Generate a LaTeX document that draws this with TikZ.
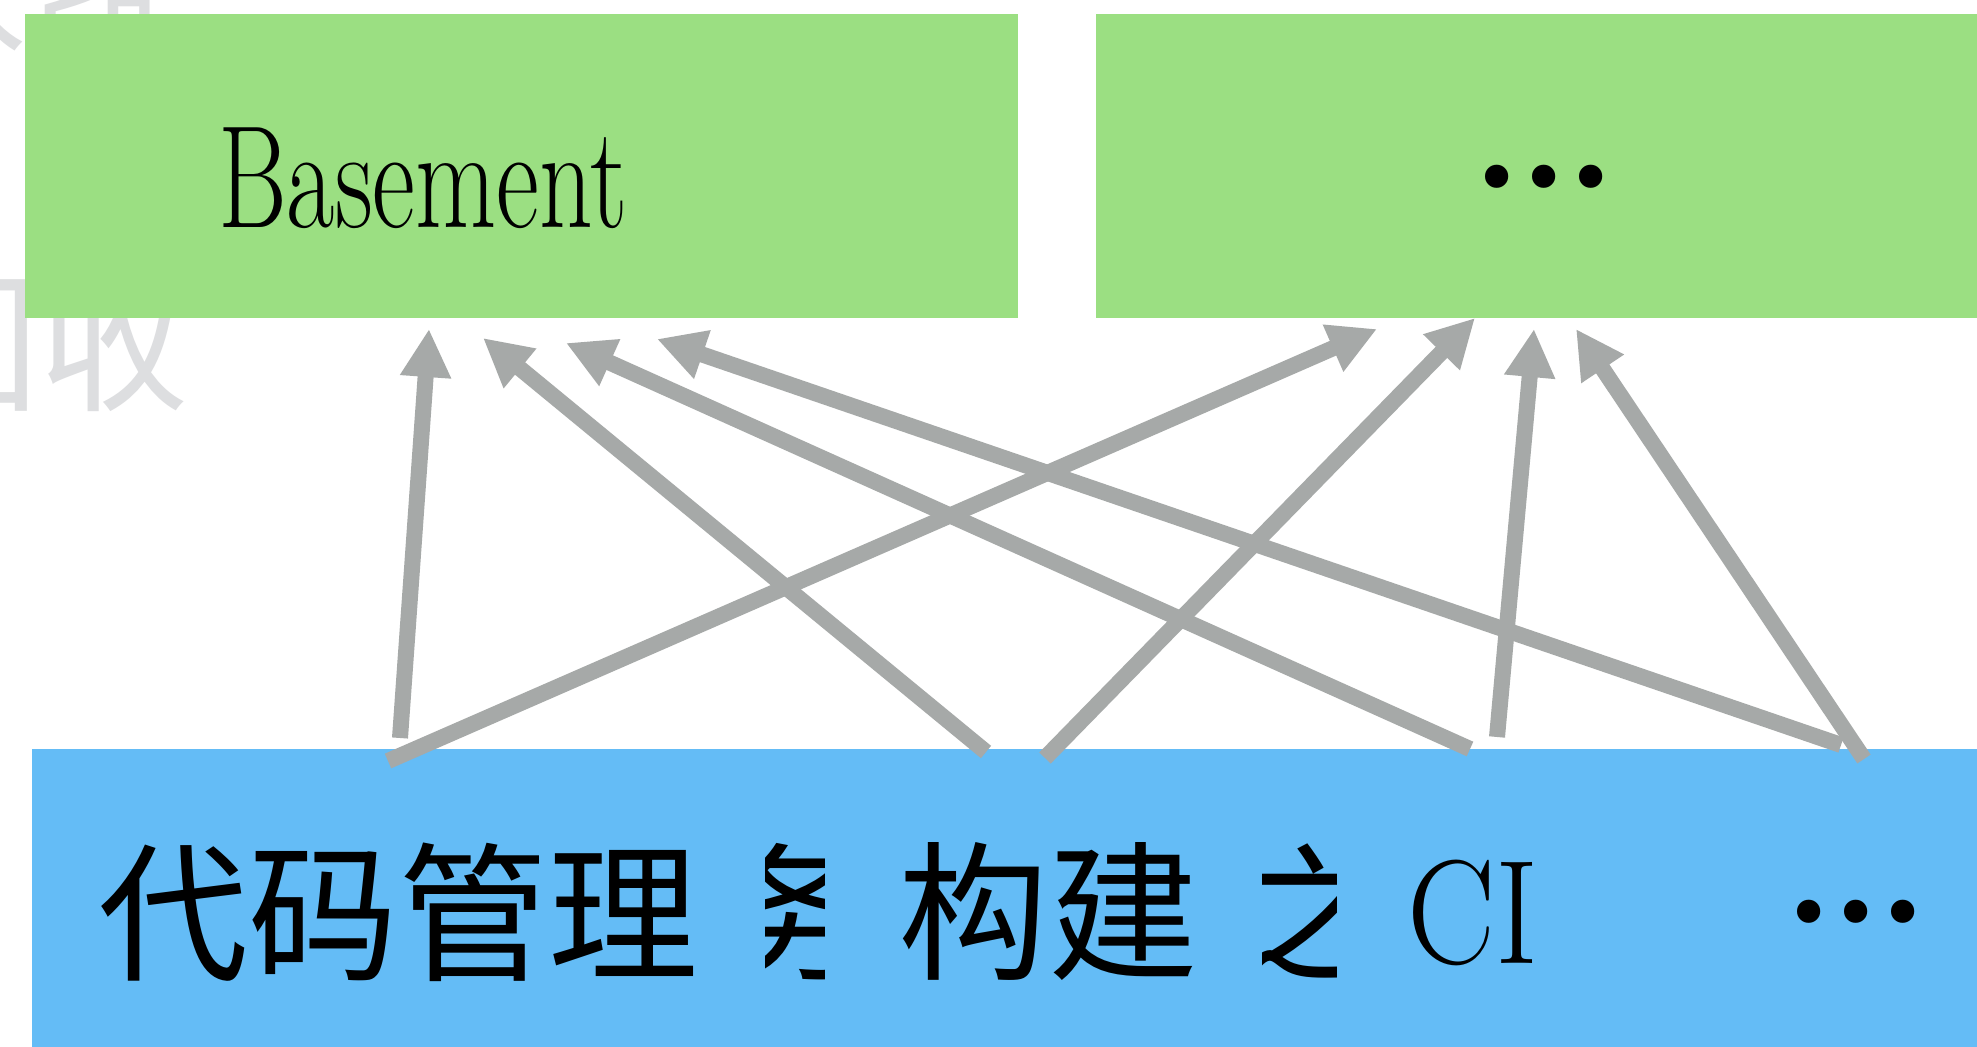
\documentclass[tikz,border=0pt]{standalone}
\usepackage{fontspec}
\usepackage{tikz}
\usetikzlibrary{arrows.meta}
\newfontfamily\cjk{Noto Sans CJK SC}
\newfontfamily\dotfont{DejaVu Sans}

\begin{document}
\begin{tikzpicture}[x=0.5pt,y=-0.5pt,
  bigcjk/.style={inner sep=0pt, outer sep=0pt, font=\cjk\fontsize{75pt}{80pt}\selectfont},
  latin/.style={inner sep=0pt, outer sep=0pt},
  dots/.style={inner sep=0pt, outer sep=0pt, font=\dotfont\fontsize{40pt}{44pt}\selectfont},
  link/.style={draw=arrowColor, line width=8pt, -{Triangle[width=24pt,length=24pt]}}]
\definecolor{fillColor}{RGB}{255,255,255}
\definecolor{ghostColor}{RGB}{221,222,224}
\definecolor{greenColor}{RGB}{155,223,130}
\definecolor{blueColor}{RGB}{100,188,246}
\definecolor{arrowColor}{RGB}{166,169,168}
\path[use as bounding box,fill=fillColor] (0,0) rectangle (1977,1047);

\node[bigcjk, text=ghostColor, anchor=east] (ghostA) at (178, 60) {阶段};
\node[bigcjk, text=ghostColor, anchor=east] (ghostB) at (190,343) {回收};

\path[fill=greenColor] (  25, 14) rectangle (1018,318);
\path[fill=greenColor] (1096, 14) rectangle (1977,318);
\path[fill=blueColor] (  32,749) rectangle (1977,1047);

\node[latin, anchor=base west, font=\fontsize{73pt}{80pt}\selectfont] (basement) at (218,228) {\scalebox{0.72}[1]{Basement}};
\node[dots] (moreTop) at (1544,186) {•••};

\node[bigcjk, anchor=west] (scm) at ( 98,912) {代码管理};
\begin{scope}
\path[clip] (765,750) rectangle (824,1047);
\node[bigcjk] (fragA) at (794,912) {务};
\end{scope}
\node[bigcjk, anchor=west] (build) at (898,912) {构建};
\begin{scope}
\path[clip] (1262,750) rectangle (1336,1047);
\node[bigcjk] (fragB) at (1310,912) {之};
\end{scope}
\node[latin, anchor=base west, font=\fontsize{74pt}{80pt}\selectfont] (ci) at (1407,963) {\scalebox{0.89}[1]{CI}};
\node[dots] (moreBot) at (1856,921) {•••};

\coordinate (t1) at ( 429,329);
\coordinate (t2) at ( 483,338);
\coordinate (t3) at ( 566,343);
\coordinate (t4) at ( 657,339);
\coordinate (t5) at (1377,329);
\coordinate (t6) at (1475,318);
\coordinate (t7) at (1534,329);
\coordinate (t8) at (1576,329);

\coordinate (s1) at ( 400,738);
\coordinate (s2) at ( 986,752);
\coordinate (s3) at (1470,749);
\coordinate (s4) at (1841,745);
\coordinate (s5) at ( 388,761);
\coordinate (s6) at (1045,758);
\coordinate (s7) at (1497,737);
\coordinate (s8) at (1864,759);

\foreach \i in {1,...,8}
  \draw[link] (s\i) -- (t\i);
\end{tikzpicture}
\end{document}
